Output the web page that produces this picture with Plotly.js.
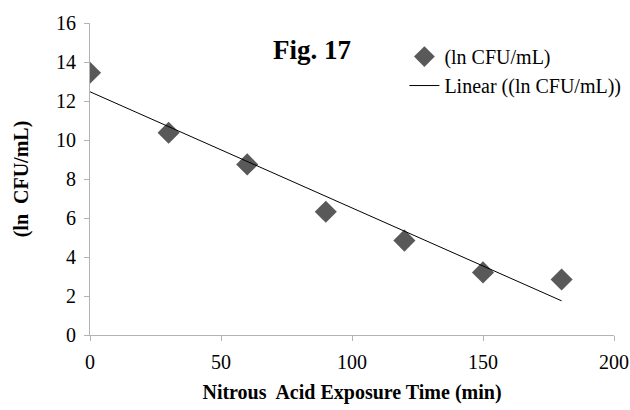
<!DOCTYPE html>
<html><head><meta charset="utf-8">
<script src="https://cdn.plot.ly/plotly-3.0.1.min.js"></script>
<style>body{margin:0;padding:0;background:#fff}#chart{width:630px;height:410px}</style>
</head><body><div id="chart"></div>
<script>
var times = [0, 30, 60, 90, 120, 150, 180];
var lnCFU = [13.45, 10.37, 8.75, 6.32, 4.84, 3.21, 2.85];
var xTicks = [0, 50, 100, 150, 200];
var yTicks = [0, 2, 4, 6, 8, 10, 12, 14, 16];

// least-squares linear trend line from the data
var n = times.length, mx = 0, my = 0;
for (var i = 0; i < n; i++) { mx += times[i]; my += lnCFU[i]; }
mx /= n; my /= n;
var sxy = 0, sxx = 0;
for (var i = 0; i < n; i++) { sxy += (times[i]-mx)*(lnCFU[i]-my); sxx += (times[i]-mx)*(times[i]-mx); }
var slope = sxy / sxx, intercept = my - slope * mx;
var fitX = [times[0], times[n-1]];
var fitY = fitX.map(function(t){ return intercept + slope * t; });

var font = "'Liberation Serif', 'Times New Roman', serif";
var data = [
  {x: times, y: lnCFU, type: 'scatter', mode: 'markers', name: '(ln CFU/mL)',
   marker: {symbol: 'diamond', size: 17, color: '#595959'}},
  {x: fitX, y: fitY, type: 'scatter', mode: 'lines', name: 'Linear ((ln CFU/mL))',
   line: {color: '#000000', width: 1}}
];
var axisCommon = {showgrid: false, zeroline: false, showline: true, linecolor: '#b3b3b3', linewidth: 1,
  ticks: 'outside', ticklen: 5, tickcolor: '#b3b3b3', automargin: false, tickfont: {family: font, size: 20, color: '#000'}};
var layout = {
  width: 630, height: 410, margin: {l: 90, r: 16, t: 23, b: 75, autoexpand: false},
  paper_bgcolor: '#fff', plot_bgcolor: '#fff',
  font: {family: font, color: '#000'},
  title: {text: '<b>Fig. 17</b>', font: {family: font, size: 27, color: '#000'},
          x: 312/630, xref: 'container', y: 1 - 50/410, yref: 'container', xanchor: 'center', yanchor: 'middle'},
  xaxis: Object.assign({}, axisCommon, {range: [0, 200], tickvals: xTicks, ticklabelstandoff: 4,
     title: {text: '<b>Nitrous  Acid Exposure Time (min)</b>', font: {family: font, size: 20, color: '#000'}, standoff: 12}}),
  yaxis: Object.assign({}, axisCommon, {range: [0, 16], tickvals: yTicks, ticklabelstandoff: 4,
     title: {text: '<b>(ln  CFU/mL)</b>', font: {family: font, size: 20, color: '#000'}, standoff: 22}}),
  showlegend: true,
  legend: {x: 0.6, y: 0.955, xanchor: 'left', yanchor: 'top', font: {family: font, size: 20, color: '#000'},
           bgcolor: 'rgba(0,0,0,0)', tracegroupgap: 0, itemwidth: 30}
};
Plotly.newPlot('chart', data, layout, {displayModeBar: false, staticPlot: true});
</script></body></html>
